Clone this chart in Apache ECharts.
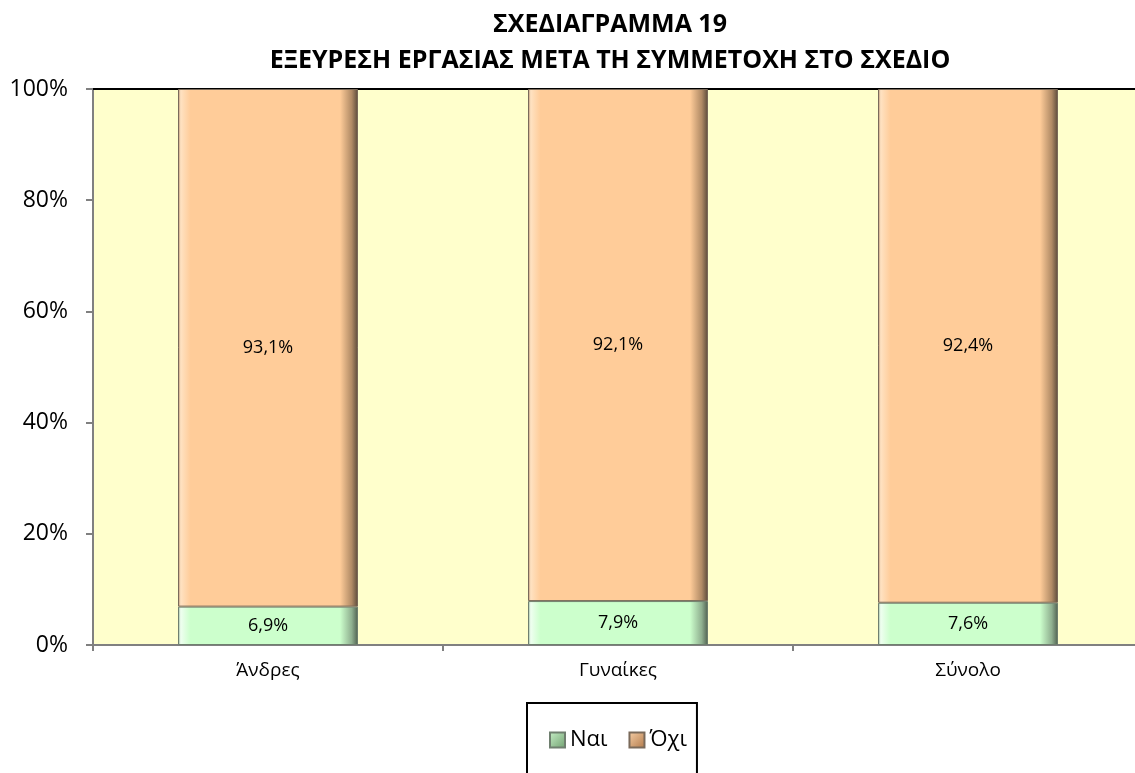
<!DOCTYPE html>
<html><head><meta charset="utf-8">
<script src="https://cdn.jsdelivr.net/npm/echarts@6/dist/echarts.min.js"></script>
<style>html,body{margin:0;padding:0;background:#fff;overflow:hidden;width:1135px;height:773px}#c{width:1145px;height:773px}</style>
</head><body><div id="c"></div>
<script>
const categories = ['Άνδρες', 'Γυναίκες', 'Σύνολο'];
const yesValues = [6.9, 7.9, 7.6];
const noValues = [93.1, 92.1, 92.4];
const seriesNames = ['Ναι', 'Όχι'];
const titleLines = ['ΣΧΕΔΙΑΓΡΑΜΜΑ 19', 'ΕΞΕΥΡΕΣΗ ΕΡΓΑΣΙΑΣ ΜΕΤΑ ΤΗ ΣΥΜΜΕΤΟΧΗ ΣΤΟ ΣΧΕΔΙΟ'];

const FONT = 'Open Sans';
function bevel(main, dark, light, edge) {
  return {type:'linear', x:0, y:0, x2:1, y2:0, colorStops:[
    {offset:0, color:dark},{offset:0.015, color:light},{offset:0.07, color:main},
    {offset:0.90, color:main},{offset:0.965, color:dark},{offset:1, color:edge}]};
}
function iconGrad(a, b) {
  return {type:'linear', x:0, y:0, x2:1, y2:1, colorStops:[{offset:0, color:a},{offset:1, color:b}]};
}
const chart = echarts.init(document.getElementById('c'));
const labelFmt = p => p.value.toFixed(1).replace('.', ',') + '%';
chart.setOption({
  animation:false,
  title:{text: titleLines.join('\n'), left:605, textAlign:'center', top:2,
    textStyle:{fontFamily:FONT, fontWeight:'bold', fontSize:25, color:'#000', lineHeight:36}},
  grid:{left:93, right:2, top:89, bottom:128, show:true, backgroundColor:'#FFFFCC', borderWidth:0},
  legend:{data:[
      {name:seriesNames[0], icon:'rect', itemStyle:{color:iconGrad('#c8f0c8','#6f9f6f')}},
      {name:seriesNames[1], icon:'rect', itemStyle:{color:iconGrad('#f8d0a8','#b07848')}}],
    left:527, top:703, orient:'horizontal', itemGap:21,
    padding:[26,10,40,22], borderColor:'#000', borderWidth:2, itemWidth:15, itemHeight:15,
    textStyle:{fontFamily:FONT, fontSize:22, color:'#000'}},
  xAxis:[{type:'category', data:categories, position:'bottom',
    axisLine:{lineStyle:{color:'#808080', width:2}},
    axisTick:{show:true, length:6, lineStyle:{color:'#808080', width:2}},
    axisLabel:{fontFamily:FONT, fontSize:19, color:'#000', margin:16}},
    {type:'category', data:categories, position:'top', axisLine:{lineStyle:{color:'#000', width:2}},
    axisTick:{show:false}, axisLabel:{show:false}}],
  yAxis:{type:'value', min:0, max:100, interval:20,
    axisLine:{show:true, lineStyle:{color:'#808080', width:2}},
    axisTick:{show:true, length:7, lineStyle:{color:'#808080', width:2}},
    splitLine:{show:false},
    axisLabel:{formatter:'{value}%', fontFamily:FONT, fontSize:23, color:'#000', margin:25}},
  series:[
    {name:seriesNames[0], type:'bar', stack:'a', data:yesValues, barWidth:180,
     itemStyle:{color:bevel('#CCFFCC','#8faf8f','#effff0','#4f5f4f'), borderColor:'#6f7f6f', borderWidth:1},
     label:{show:true, position:'inside', formatter:labelFmt, fontFamily:FONT, fontSize:18, color:'#000'}},
    {name:seriesNames[1], type:'bar', stack:'a', data:noValues, barWidth:180,
     itemStyle:{color:bevel('#FFCC99','#b08a65','#ffe2c2','#5a4a3a'), borderColor:'#7a6a5a', borderWidth:1},
     label:{show:true, position:'inside', formatter:labelFmt, fontFamily:FONT, fontSize:18, color:'#000'}}
  ]
});
</script></body></html>
